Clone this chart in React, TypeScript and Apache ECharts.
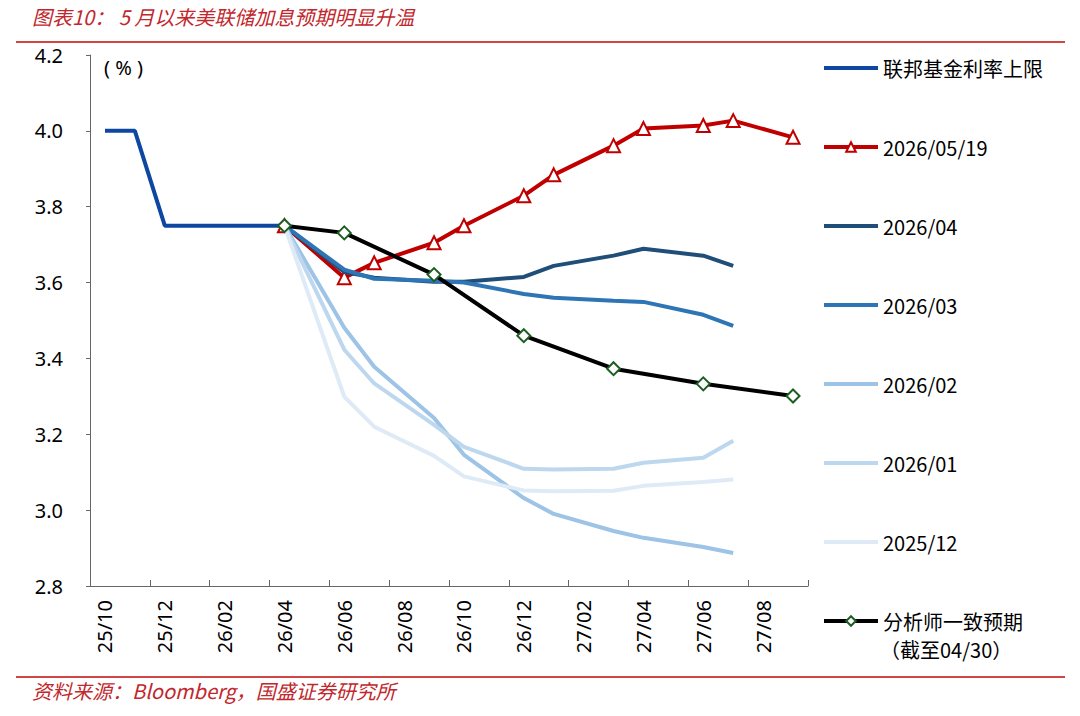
import React, { useEffect, useRef } from 'react';
import * as echarts from 'echarts';

const _ = null;

const categories = [
  '25/10', '25/11', '25/12', '26/01', '26/02', '26/03', '26/04', '26/05',
  '26/06', '26/07', '26/08', '26/09', '26/10', '26/11', '26/12', '27/01',
  '27/02', '27/03', '27/04', '27/05', '27/06', '27/07', '27/08', '27/09',
];

const fedUpper = [4.0, 4.0, 3.75, 3.75, 3.75, 3.75, 3.75, _, _, _, _, _, _, _, _, _, _, _, _, _, _, _, _, _];
const may19 = [_, _, _, _, _, _, 3.75, _, 3.613, 3.652, _, 3.705, 3.75, _, 3.829, 3.884, _, 3.961, 4.006, _, 4.014, 4.027, _, 3.983];
const apr26 = [_, _, _, _, _, _, 3.75, _, 3.628, 3.613, _, 3.602, 3.602, _, 3.615, 3.644, _, 3.671, 3.689, _, 3.671, 3.644, _, _];
const mar26 = [_, _, _, _, _, _, 3.75, _, 3.634, 3.61, _, 3.605, 3.6, _, 3.57, 3.56, _, 3.552, 3.549, _, 3.515, 3.486, _, _];
const feb26 = [_, _, _, _, _, _, 3.75, _, 3.481, 3.378, _, 3.243, 3.146, _, 3.032, 2.99, _, 2.945, 2.927, _, 2.903, 2.887, _, _];
const jan26 = [_, _, _, _, _, _, 3.75, _, 3.423, 3.334, _, 3.225, 3.167, _, 3.109, 3.107, _, 3.109, 3.125, _, 3.138, 3.183, _, _];
const dec25 = [_, _, _, _, _, _, 3.75, _, 3.299, 3.22, _, 3.143, 3.089, _, 3.052, 3.05, _, 3.051, 3.064, _, 3.074, 3.081, _, _];
const consensus = [_, _, _, _, _, _, 3.75, _, 3.731, _, _, 3.621, _, _, 3.46, _, _, 3.373, _, _, 3.333, _, _, 3.301];

const names = ['联邦基金利率上限', '2026/05/19', '2026/04', '2026/03', '2026/02', '2026/01', '2025/12', '分析师一致预期'];
const withMarker = ['2026/05/19', '分析师一致预期'];

const FONT = '"Noto Sans", "Noto Sans CJK SC", sans-serif';
const CJK = '"Noto Sans CJK SC", "Noto Sans", sans-serif';

export default function App() {
  const ref = useRef<HTMLDivElement>(null);

  useEffect(() => {
    if (!ref.current) return;
    const chart = echarts.init(ref.current, null, { renderer: 'svg' });

    const plain = (name: string, data: (number | null)[], color: string, z: number) => ({
      name,
      type: 'line',
      data,
      connectNulls: true,
      symbol: 'none',
      z,
      lineStyle: { color, width: 4 },
      itemStyle: { color },
    });

    const legendData = names.map((n) =>
      withMarker.includes(n)
        ? { name: n }
        : { name: n, itemStyle: { opacity: 0, borderWidth: 0 } }
    );

    const option: any = {
      animation: false,
      backgroundColor: '#ffffff',
      grid: { left: 90, right: 272, top: 55, bottom: 130, containLabel: false },
      xAxis: {
        type: 'category',
        data: categories,
        boundaryGap: true,
        axisLine: { lineStyle: { color: '#666666', width: 1 } },
        axisTick: { show: true, interval: 1, inside: true, length: 6, lineStyle: { color: '#666666' } },
        axisLabel: {
          interval: 1,
          rotate: 90,
          margin: 14,
          color: '#000000',
          fontSize: 20,
          fontFamily: FONT,
        },
        splitLine: { show: false },
      },
      yAxis: {
        type: 'value',
        min: 2.8,
        max: 4.2,
        interval: 0.2,
        axisLine: { show: true, lineStyle: { color: '#666666', width: 1 } },
        axisTick: { show: true, length: 4, lineStyle: { color: '#666666' } },
        axisLabel: {
          margin: 27,
          color: '#000000',
          fontSize: 20,
          fontFamily: FONT,
          formatter: (v: number) => v.toFixed(1),
        },
        splitLine: { show: false },
      },
      legend: {
        orient: 'vertical',
        left: 817,
        top: 53,
        itemWidth: 54,
        itemHeight: 12,
        itemGap: 59,
        data: legendData,
        lineStyle: { width: 4 },
        textStyle: { color: '#000000', fontSize: 20, lineHeight: 20, fontFamily: CJK },
      },
      series: [
        plain(names[0], fedUpper, '#0D47A1', 2),
        {
          name: names[1],
          type: 'line',
          data: may19,
          connectNulls: true,
          symbol: 'triangle',
          symbolSize: 13,
          z: 3,
          lineStyle: { color: '#C00000', width: 4 },
          itemStyle: { color: '#ffffff', borderColor: '#C00000', borderWidth: 2 },
        },
        plain(names[2], apr26, '#1F4E79', 4),
        plain(names[3], mar26, '#2E75B6', 5),
        plain(names[4], feb26, '#9DC3E6', 6),
        plain(names[5], jan26, '#BDD7EE', 7),
        plain(names[6], dec25, '#DEEBF7', 8),
        {
          name: names[7],
          type: 'line',
          data: consensus,
          connectNulls: true,
          symbol: 'diamond',
          symbolSize: 13,
          z: 9,
          lineStyle: { color: '#000000', width: 4 },
          itemStyle: { color: '#ffffff', borderColor: '#1B5E20', borderWidth: 2 },
        },
      ],
      graphic: [
        {
          type: 'text',
          left: 32,
          top: 6,
          style: {
            text: '图表10： 5 月以来美联储加息预期明显升温',
            fill: '#C1272D',
            font: `italic 20px ${CJK}`,
          },
        },
        {
          type: 'line',
          shape: { x1: 16, y1: 42, x2: 1065, y2: 42 },
          style: { stroke: '#D04545', lineWidth: 2 },
        },
        {
          type: 'text',
          left: 104,
          top: 57,
          style: { text: '( % )', fill: '#000000', font: `20px ${FONT}` },
        },
        {
          type: 'text',
          left: 880,
          top: 639,
          style: { text: '（截至04/30）', fill: '#000000', font: `20px ${CJK}`, lineHeight: 20 },
        },
        {
          type: 'line',
          shape: { x1: 16, y1: 677, x2: 1065, y2: 677 },
          style: { stroke: '#D04545', lineWidth: 2 },
        },
        {
          type: 'text',
          left: 32,
          top: 680,
          style: {
            text: '资料来源：Bloomberg，国盛证券研究所',
            fill: '#C1272D',
            font: `italic 20px ${CJK}`,
          },
        },
      ],
    };

    chart.setOption(option);
    return () => chart.dispose();
  }, []);

  return (
    <div
      ref={ref}
      style={{ position: 'absolute', left: 0, top: 0, width: 1080, height: 716, background: '#ffffff' }}
    />
  );
}
